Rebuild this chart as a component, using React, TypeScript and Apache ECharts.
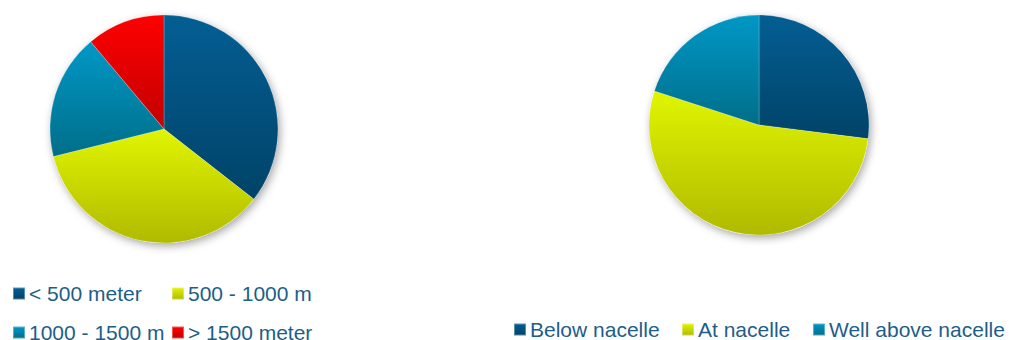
import React, { useEffect, useRef } from "react";
import * as echarts from "echarts";

const leftNames = ["< 500 meter", "500 - 1000 m", "1000 - 1500 m", "> 1500 meter"];
const leftValues = [32, 32, 16, 10];
const rightNames = ["Below nacelle", "At nacelle", "Well above nacelle"];
const rightValues = [27, 53, 20];

const leftColors = [
  ["#045e93", "#004368"],
  ["#e0f500", "#b0ba00"],
  ["#0098c6", "#006e8a"],
  ["#ff0000", "#c20000"],
];
const rightColors = [leftColors[0], leftColors[1], leftColors[2]];

const grad = (c: string[]) =>
  new echarts.graphic.LinearGradient(0, 0, 0, 1, [
    { offset: 0, color: c[0] },
    { offset: 1, color: c[1] },
  ]);

const textColor = "#1d5e89";

export default function App() {
  const ref = useRef<HTMLDivElement>(null);
  useEffect(() => {
    if (!ref.current) return;
    const chart = echarts.init(ref.current, undefined, { renderer: "svg" });
    const legendBase = {
      icon: "rect",
      itemWidth: 12,
      itemHeight: 12,
      itemGap: 4,
      selectedMode: false,
      orient: "horizontal" as const,
      padding: 0,
      textStyle: {
        color: textColor,
        fontSize: 21,
        lineHeight: 18,
        fontFamily: "Liberation Sans, Arial, sans-serif",
        padding: [0, 0, 0, -1],
      },
    };
    const legendPos: [string, number, number][] = [
      [leftNames[0], 12, 283],
      [leftNames[1], 171, 283],
      [leftNames[2], 12, 322],
      [leftNames[3], 171, 322],
      [rightNames[0], 513, 319],
      [rightNames[1], 681, 319],
      [rightNames[2], 812, 319],
    ];
    const shadowPie = (center: number[], r: number) => ({
      type: "pie",
      silent: true,
      center,
      radius: r,
      z: 1,
      label: { show: false },
      labelLine: { show: false },
      legendHoverLink: false,
      data: [
        {
          name: "__bg",
          value: 1,
          itemStyle: {
            color: "#ffffff",
            shadowBlur: 8,
            shadowColor: "rgba(0,0,0,0.35)",
            shadowOffsetX: 2,
            shadowOffsetY: 3,
          },
        },
      ],
    });
    chart.setOption({
      animation: false,
      backgroundColor: "#ffffff",
      legend: legendPos.map(([name, left, top]) => ({
        ...legendBase,
        left,
        top,
        data: [name],
      })),
      series: [
        shadowPie([164, 129], 114),
        shadowPie([759, 125], 110),
        {
          type: "pie",
          center: [164, 129],
          radius: 114,
          startAngle: 90,
          clockwise: true,
          z: 2,
          label: { show: false },
          labelLine: { show: false },
          emphasis: { disabled: true },
          itemStyle: { borderColor: "rgba(255,255,255,0.35)", borderWidth: 0.6 },
          data: leftNames.map((n, i) => ({
            name: n,
            value: leftValues[i],
            itemStyle: { color: grad(leftColors[i]) },
          })),
        },
        {
          type: "pie",
          center: [759, 125],
          radius: 110,
          startAngle: 90,
          clockwise: true,
          z: 2,
          label: { show: false },
          labelLine: { show: false },
          emphasis: { disabled: true },
          itemStyle: { borderColor: "rgba(255,255,255,0.35)", borderWidth: 0.6 },
          data: rightNames.map((n, i) => ({
            name: n,
            value: rightValues[i],
            itemStyle: { color: grad(rightColors[i]) },
          })),
        },
      ],
    });
    return () => chart.dispose();
  }, []);
  return (
    <div
      ref={ref}
      style={{ width: 1009, height: 340, position: "absolute", left: 0, top: 0 }}
    />
  );
}
